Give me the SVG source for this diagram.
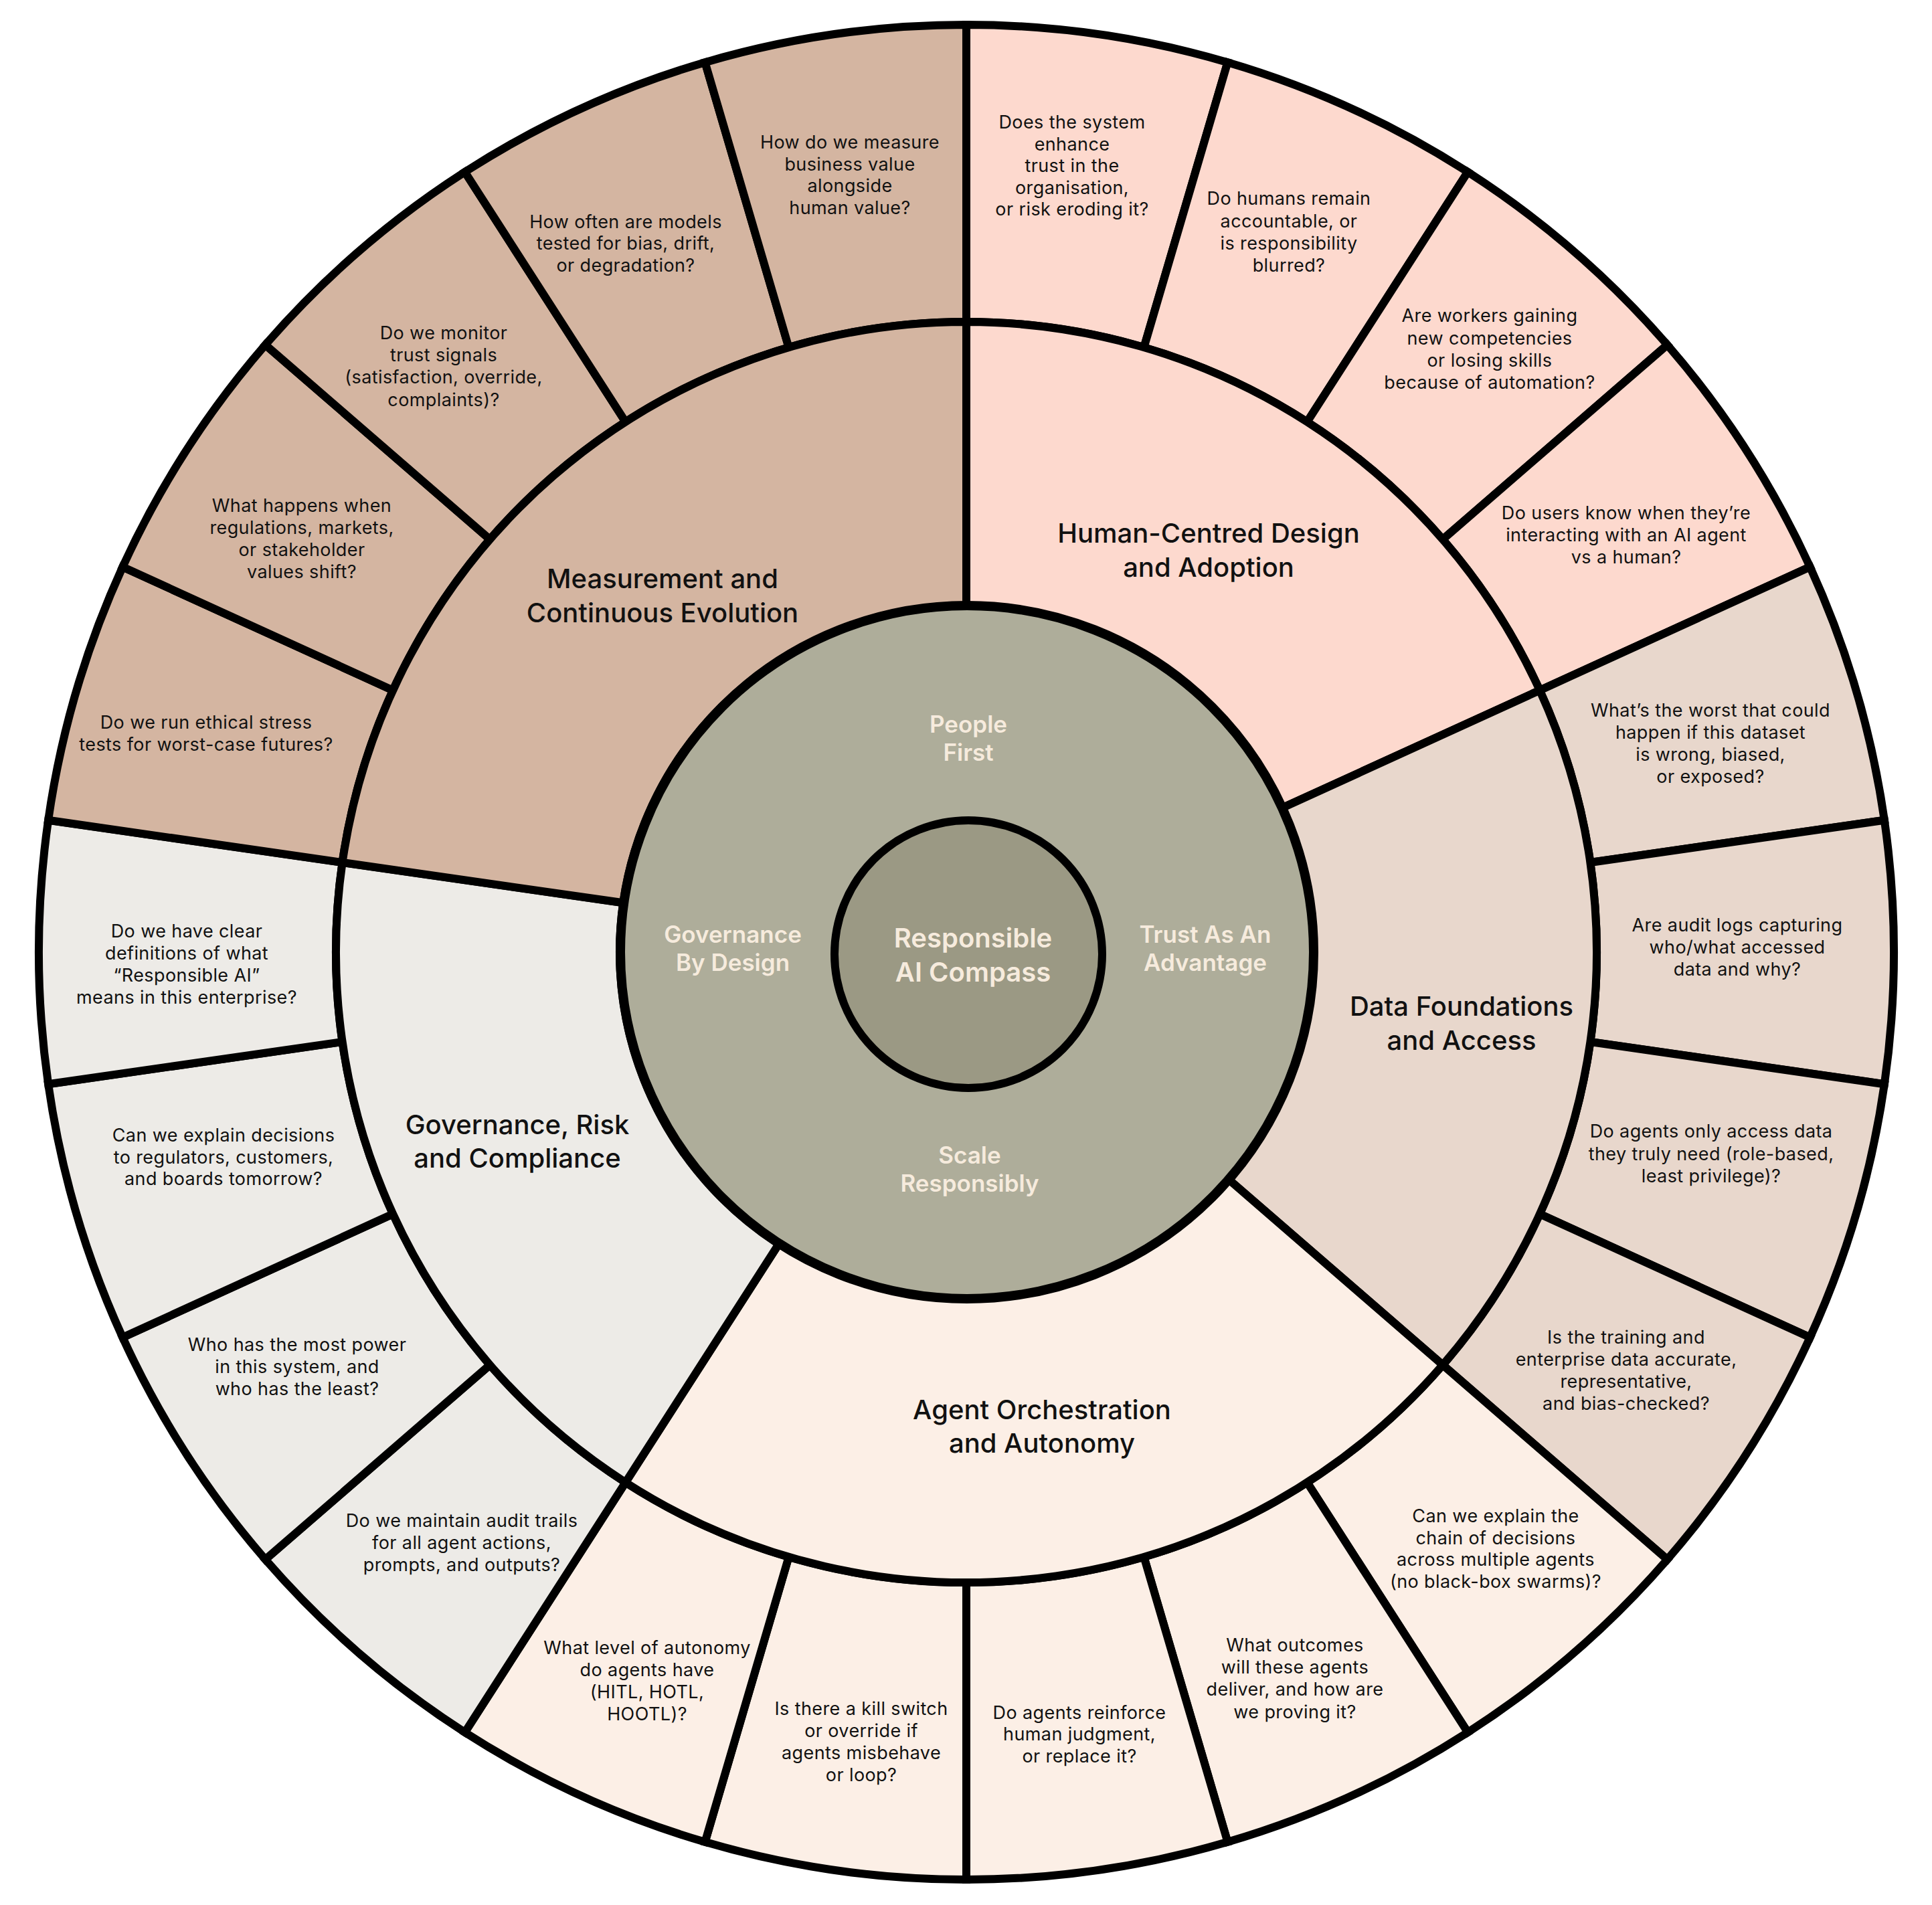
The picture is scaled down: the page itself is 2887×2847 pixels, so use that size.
<svg xmlns="http://www.w3.org/2000/svg" width="2887" height="2847" viewBox="0 0 2887 2847">
<style>
.seg{stroke:#000;stroke-width:12;stroke-linejoin:miter}
.m{fill:#D4B5A1}.h{fill:#FDD9CE}.d{fill:#E8D7CC}.a{fill:#FCEFE6}.g{fill:#EDEBE7}
.q{font-family:Inter,"Noto Sans","Liberation Sans",sans-serif;font-size:27px;letter-spacing:0.4px;fill:#111;text-anchor:middle}
.c{font-family:Inter,"Noto Sans","Liberation Sans",sans-serif;font-size:40px;font-weight:500;fill:#111;text-anchor:middle}
.o{font-family:Inter,"Noto Sans","Liberation Sans",sans-serif;font-size:35px;font-weight:600;fill:#F6EBDD;text-anchor:middle}
.t{font-family:Inter,"Noto Sans","Liberation Sans",sans-serif;font-size:40px;font-weight:600;fill:#F6EBDD;text-anchor:middle}
</style>
<rect width="2887" height="2847" fill="#fff"/>
<g id="questions">
<g id="q-h1"><path class="seg h" d="M1444,37 A1386,1386 0 0 1 1834.48,93.15 L1709.39,519.16 A942,942 0 0 0 1444,481 Z"/>
<text class="q"><tspan x="1602" y="192">Does the system</tspan><tspan x="1602" y="225">enhance</tspan><tspan x="1602" y="257">trust in the</tspan><tspan x="1602" y="290">organisation,</tspan><tspan x="1602" y="322">or risk eroding it?</tspan></text></g>
<g id="q-h2"><path class="seg h" d="M1834.48,93.15 A1386,1386 0 0 1 2193.33,257.03 L1953.28,630.54 A942,942 0 0 0 1709.39,519.16 Z"/>
<text class="q"><tspan x="1926" y="306">Do humans remain</tspan><tspan x="1926" y="340">accountable, or</tspan><tspan x="1926" y="373">is responsibility</tspan><tspan x="1926" y="406">blurred?</tspan></text></g>
<g id="q-h3"><path class="seg h" d="M2193.33,257.03 A1386,1386 0 0 1 2491.47,515.36 L2155.92,806.12 A942,942 0 0 0 1953.28,630.54 Z"/>
<text class="q"><tspan x="2226" y="481">Are workers gaining</tspan><tspan x="2226" y="515">new competencies</tspan><tspan x="2226" y="548">or losing skills</tspan><tspan x="2226" y="581">because of automation?</tspan></text></g>
<g id="q-h4"><path class="seg h" d="M2491.47,515.36 A1386,1386 0 0 1 2704.75,847.23 L2300.87,1031.67 A942,942 0 0 0 2155.92,806.12 Z"/>
<text class="q"><tspan x="2430" y="776">Do users know when they’re</tspan><tspan x="2430" y="809">interacting with an AI agent</tspan><tspan x="2430" y="842">vs a human?</tspan></text></g>
<g id="q-d1"><path class="seg d" d="M2704.75,847.23 A1386,1386 0 0 1 2815.89,1225.76 L2376.41,1288.94 A942,942 0 0 0 2300.87,1031.67 Z"/>
<text class="q"><tspan x="2556" y="1071">What’s the worst that could</tspan><tspan x="2556" y="1104">happen if this dataset</tspan><tspan x="2556" y="1137">is wrong, biased,</tspan><tspan x="2556" y="1170">or exposed?</tspan></text></g>
<g id="q-d2"><path class="seg d" d="M2815.89,1225.76 A1386,1386 0 0 1 2815.89,1620.24 L2376.41,1557.06 A942,942 0 0 0 2376.41,1288.94 Z"/>
<text class="q"><tspan x="2596" y="1392">Are audit logs capturing</tspan><tspan x="2596" y="1425">who/what accessed</tspan><tspan x="2596" y="1458">data and why?</tspan></text></g>
<g id="q-d3"><path class="seg d" d="M2815.89,1620.24 A1386,1386 0 0 1 2704.75,1998.77 L2300.87,1814.33 A942,942 0 0 0 2376.41,1557.06 Z"/>
<text class="q"><tspan x="2557" y="1700">Do agents only access data</tspan><tspan x="2557" y="1734">they truly need (role-based,</tspan><tspan x="2557" y="1767">least privilege)?</tspan></text></g>
<g id="q-d4"><path class="seg d" d="M2704.75,1998.77 A1386,1386 0 0 1 2491.47,2330.64 L2155.92,2039.88 A942,942 0 0 0 2300.87,1814.33 Z"/>
<text class="q"><tspan x="2430" y="2008">Is the training and</tspan><tspan x="2430" y="2041">enterprise data accurate,</tspan><tspan x="2430" y="2074">representative,</tspan><tspan x="2430" y="2107">and bias-checked?</tspan></text></g>
<g id="q-a1"><path class="seg a" d="M2491.47,2330.64 A1386,1386 0 0 1 2193.33,2588.97 L1953.28,2215.46 A942,942 0 0 0 2155.92,2039.88 Z"/>
<text class="q"><tspan x="2235" y="2275">Can we explain the</tspan><tspan x="2235" y="2308">chain of decisions</tspan><tspan x="2235" y="2340">across multiple agents</tspan><tspan x="2235" y="2373">(no black-box swarms)?</tspan></text></g>
<g id="q-a2"><path class="seg a" d="M2193.33,2588.97 A1386,1386 0 0 1 1834.48,2752.85 L1709.39,2326.84 A942,942 0 0 0 1953.28,2215.46 Z"/>
<text class="q"><tspan x="1935" y="2468">What outcomes</tspan><tspan x="1935" y="2501">will these agents</tspan><tspan x="1935" y="2534">deliver, and how are</tspan><tspan x="1935" y="2568">we proving it?</tspan></text></g>
<g id="q-a3"><path class="seg a" d="M1834.48,2752.85 A1386,1386 0 0 1 1444,2809 L1444,2365 A942,942 0 0 0 1709.39,2326.84 Z"/>
<text class="q"><tspan x="1613" y="2569">Do agents reinforce</tspan><tspan x="1613" y="2601">human judgment,</tspan><tspan x="1613" y="2634">or replace it?</tspan></text></g>
<g id="q-a4"><path class="seg a" d="M1444,2809 A1386,1386 0 0 1 1053.52,2752.85 L1178.61,2326.84 A942,942 0 0 0 1444,2365 Z"/>
<text class="q"><tspan x="1287" y="2563">Is there a kill switch</tspan><tspan x="1287" y="2596">or override if</tspan><tspan x="1287" y="2629">agents misbehave</tspan><tspan x="1287" y="2662">or loop?</tspan></text></g>
<g id="q-a5"><path class="seg a" d="M1053.52,2752.85 A1386,1386 0 0 1 694.67,2588.97 L934.72,2215.46 A942,942 0 0 0 1178.61,2326.84 Z"/>
<text class="q"><tspan x="967" y="2472">What level of autonomy</tspan><tspan x="967" y="2505">do agents have</tspan><tspan x="967" y="2538">(HITL, HOTL,</tspan><tspan x="967" y="2571">HOOTL)?</tspan></text></g>
<g id="q-g1"><path class="seg g" d="M694.67,2588.97 A1386,1386 0 0 1 396.53,2330.64 L732.08,2039.88 A942,942 0 0 0 934.72,2215.46 Z"/>
<text class="q"><tspan x="690" y="2282">Do we maintain audit trails</tspan><tspan x="690" y="2315">for all agent actions,</tspan><tspan x="690" y="2348">prompts, and outputs?</tspan></text></g>
<g id="q-g2"><path class="seg g" d="M396.53,2330.64 A1386,1386 0 0 1 183.25,1998.77 L587.13,1814.33 A942,942 0 0 0 732.08,2039.88 Z"/>
<text class="q"><tspan x="444" y="2019">Who has the most power</tspan><tspan x="444" y="2052">in this system, and</tspan><tspan x="444" y="2085">who has the least?</tspan></text></g>
<g id="q-g3"><path class="seg g" d="M183.25,1998.77 A1386,1386 0 0 1 72.11,1620.24 L511.59,1557.06 A942,942 0 0 0 587.13,1814.33 Z"/>
<text class="q"><tspan x="334" y="1706">Can we explain decisions</tspan><tspan x="334" y="1739">to regulators, customers,</tspan><tspan x="334" y="1771">and boards tomorrow?</tspan></text></g>
<g id="q-g4"><path class="seg g" d="M72.11,1620.24 A1386,1386 0 0 1 72.11,1225.76 L511.59,1288.94 A942,942 0 0 0 511.59,1557.06 Z"/>
<text class="q"><tspan x="279" y="1401">Do we have clear</tspan><tspan x="279" y="1434">definitions of what</tspan><tspan x="279" y="1467">“Responsible AI”</tspan><tspan x="279" y="1500">means in this enterprise?</tspan></text></g>
<g id="q-m1"><path class="seg m" d="M72.11,1225.76 A1386,1386 0 0 1 183.25,847.23 L587.13,1031.67 A942,942 0 0 0 511.59,1288.94 Z"/>
<text class="q"><tspan x="308" y="1089">Do we run ethical stress</tspan><tspan x="308" y="1122">tests for worst-case futures?</tspan></text></g>
<g id="q-m2"><path class="seg m" d="M183.25,847.23 A1386,1386 0 0 1 396.53,515.36 L732.08,806.12 A942,942 0 0 0 587.13,1031.67 Z"/>
<text class="q"><tspan x="451" y="765">What happens when</tspan><tspan x="451" y="798">regulations, markets,</tspan><tspan x="451" y="831">or stakeholder</tspan><tspan x="451" y="864">values shift?</tspan></text></g>
<g id="q-m3"><path class="seg m" d="M396.53,515.36 A1386,1386 0 0 1 694.67,257.03 L934.72,630.54 A942,942 0 0 0 732.08,806.12 Z"/>
<text class="q"><tspan x="663" y="507">Do we monitor</tspan><tspan x="663" y="540">trust signals</tspan><tspan x="663" y="573">(satisfaction, override,</tspan><tspan x="663" y="607">complaints)?</tspan></text></g>
<g id="q-m4"><path class="seg m" d="M694.67,257.03 A1386,1386 0 0 1 1053.52,93.15 L1178.61,519.16 A942,942 0 0 0 934.72,630.54 Z"/>
<text class="q"><tspan x="935" y="341">How often are models</tspan><tspan x="935" y="373">tested for bias, drift,</tspan><tspan x="935" y="406">or degradation?</tspan></text></g>
<g id="q-m5"><path class="seg m" d="M1053.52,93.15 A1386,1386 0 0 1 1444,37 L1444,481 A942,942 0 0 0 1178.61,519.16 Z"/>
<text class="q"><tspan x="1270" y="222">How do we measure</tspan><tspan x="1270" y="255">business value</tspan><tspan x="1270" y="287">alongside</tspan><tspan x="1270" y="320">human value?</tspan></text></g>
</g>
<g id="categories">
<g id="cat-human"><path class="seg h" d="M1444,481 A942,942 0 0 1 2300.87,1031.67 L1915.19,1207.81 A518,518 0 0 0 1444,905 Z"/>
<text class="c"><tspan x="1806" y="811">Human-Centred Design</tspan><tspan x="1806" y="862">and Adoption</tspan></text></g>
<g id="cat-data"><path class="seg d" d="M2300.87,1031.67 A942,942 0 0 1 2155.92,2039.88 L1835.48,1762.22 A518,518 0 0 0 1915.19,1207.81 Z"/>
<text class="c"><tspan x="2184" y="1518">Data Foundations</tspan><tspan x="2184" y="1569">and Access</tspan></text></g>
<g id="cat-agent"><path class="seg a" d="M2155.92,2039.88 A942,942 0 0 1 934.72,2215.46 L1163.95,1858.77 A518,518 0 0 0 1835.48,1762.22 Z"/>
<text class="c"><tspan x="1557" y="2121">Agent Orchestration</tspan><tspan x="1557" y="2171">and Autonomy</tspan></text></g>
<g id="cat-governance"><path class="seg g" d="M934.72,2215.46 A942,942 0 0 1 511.59,1288.94 L931.27,1349.28 A518,518 0 0 0 1163.95,1858.77 Z"/>
<text class="c"><tspan x="773" y="1695">Governance, Risk</tspan><tspan x="773" y="1745">and Compliance</tspan></text></g>
<g id="cat-measurement"><path class="seg m" d="M511.59,1288.94 A942,942 0 0 1 1444,481 L1444,905 A518,518 0 0 0 931.27,1349.28 Z"/>
<text class="c"><tspan x="990" y="879">Measurement and</tspan><tspan x="990" y="930">Continuous Evolution</tspan></text></g>
</g>
<g id="principles">
<circle cx="1445" cy="1423" r="518" fill="#AEAD9A" stroke="#000" stroke-width="14"/>
<text class="o"><tspan x="1447" y="1095">People</tspan><tspan x="1447" y="1137">First</tspan></text>
<text class="o"><tspan x="1095" y="1409">Governance</tspan><tspan x="1095" y="1451">By Design</tspan></text>
<text class="o"><tspan x="1801" y="1409">Trust As An</tspan><tspan x="1801" y="1451">Advantage</tspan></text>
<text class="o"><tspan x="1449" y="1739">Scale</tspan><tspan x="1449" y="1781">Responsibly</tspan></text>
</g>
<g id="core">
<circle cx="1447" cy="1426" r="200" fill="#9B9984" stroke="#000" stroke-width="12"/>
<text class="t"><tspan x="1454" y="1416">Responsible</tspan><tspan x="1454" y="1467">AI Compass</tspan></text>
</g>
<g id="connectors"/>
</svg>
